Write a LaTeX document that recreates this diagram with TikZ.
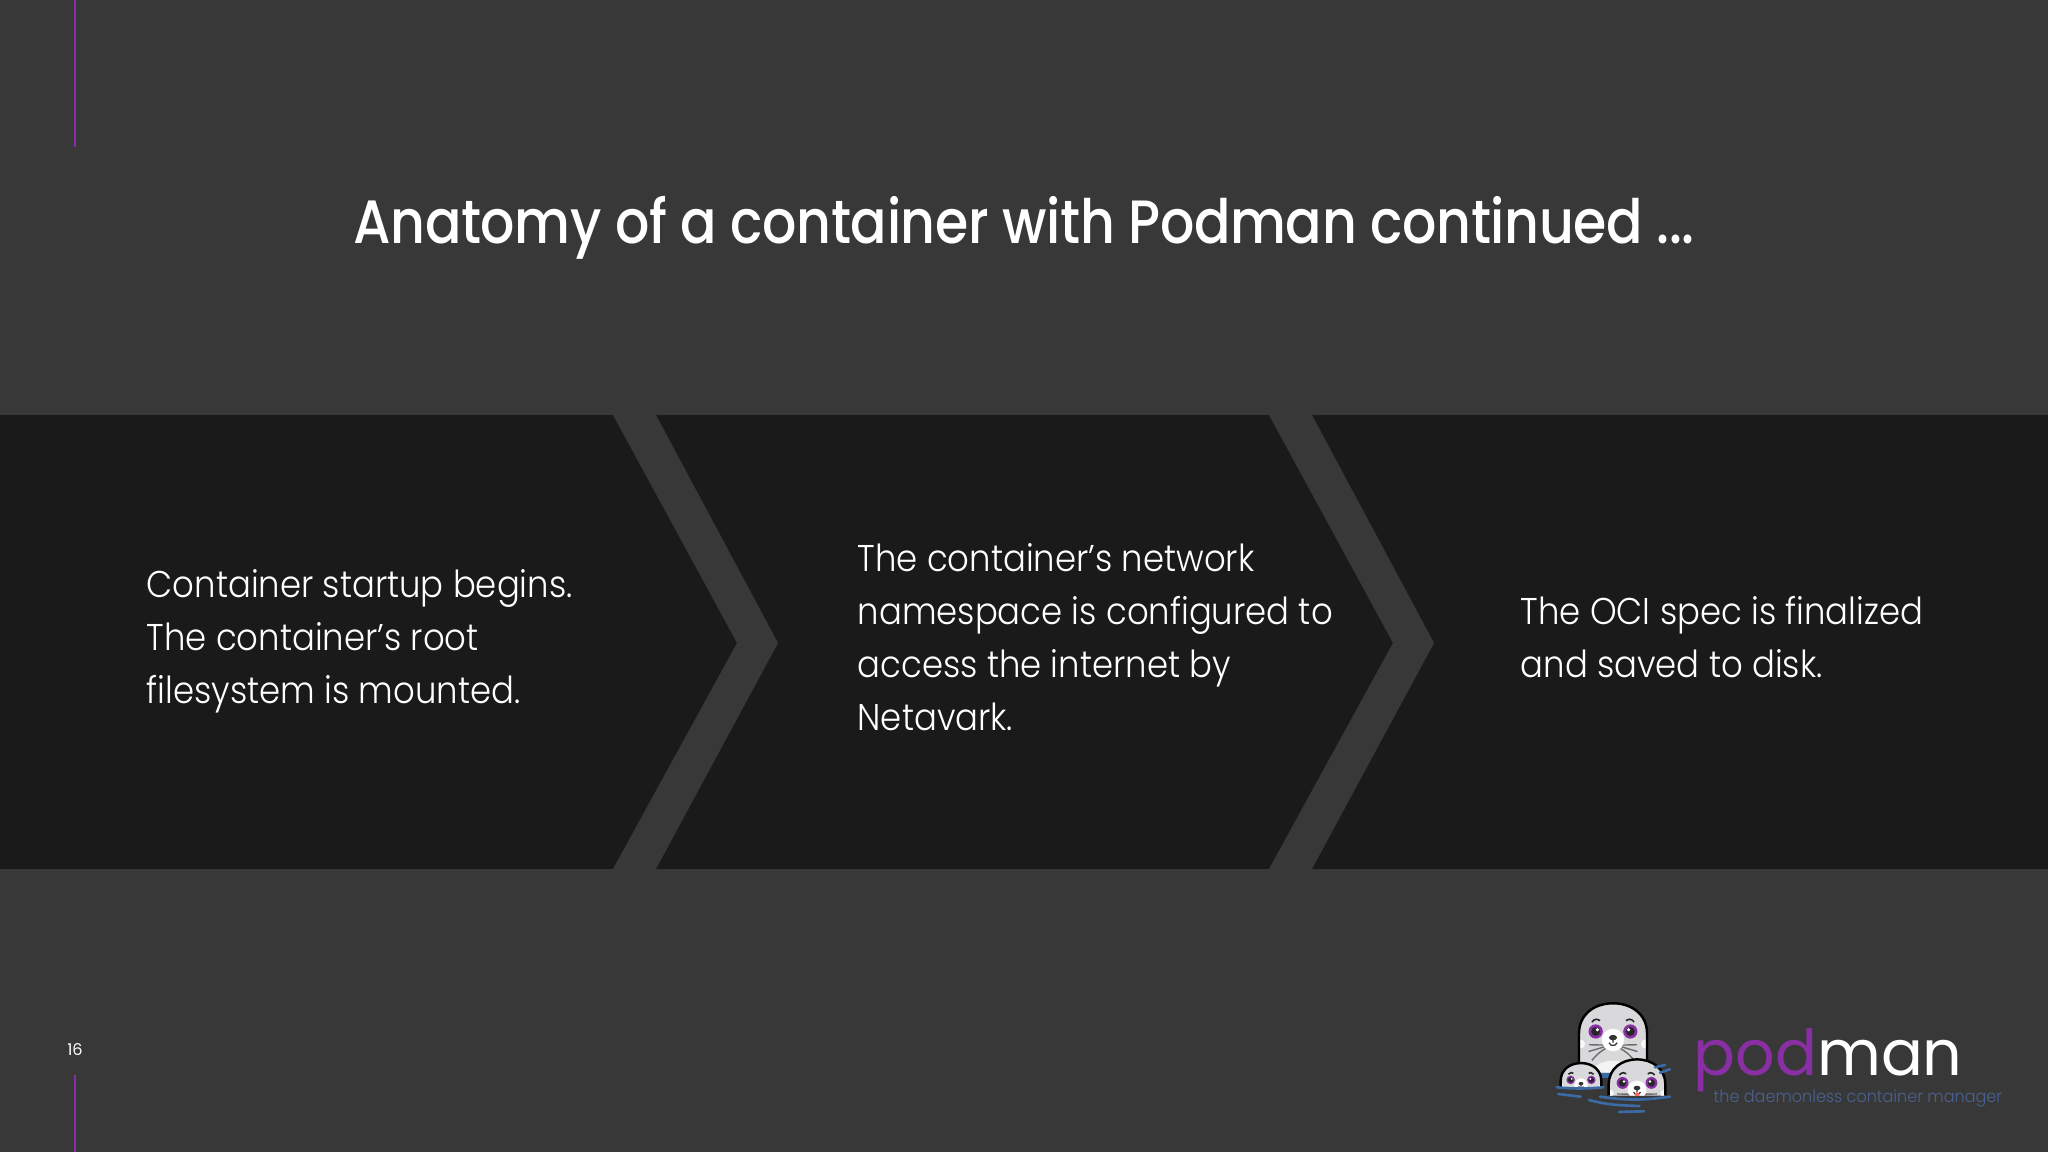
\documentclass[tikz,border=0pt]{standalone}
\usepackage{fontspec}
\setmainfont{Poppins}
\newfontfamily\titlefont[FakeStretch=0.88,LetterSpace=-0.6,UprightFont={* Medium}]{Poppins}
\newfontfamily\bodyfont[FakeStretch=0.91,UprightFont={* Light}]{Poppins}
\newfontfamily\logofont[FakeStretch=0.98]{Poppins}
\newfontfamily\tagfont[FakeStretch=0.95,UprightFont={* Light}]{Poppins}
\definecolor{slidebg}{HTML}{383838}
\definecolor{panel}{HTML}{1A1A1A}
\definecolor{podpurple}{HTML}{892FA3}
\definecolor{waterblue}{HTML}{3B6AA5}
\definecolor{tagblue}{HTML}{4A6292}
\definecolor{sealgray}{HTML}{D9D9DB}
\tikzset{
    body/.style={text=white,align=left,anchor=west,inner sep=0pt,font=\bodyfont\fontsize{10.6}{15.05}\selectfont},
    edgeline/.style={podpurple,line width=0.6pt},
    water/.style={waterblue,line width=0.75pt,line cap=round},
    pics/seal/.style={code={
        \begin{scope}
        \clip (-1,#1) -- (-1,0.2) .. controls (-1,0.75) and (-0.55,1.08) .. (0,1.08) .. controls (0.55,1.08) and (1,0.75) .. (1,0.2) -- (1,#1) -- cycle;
        \fill[sealgray] (-1.1,#1) rectangle (1.1,1.1);
        \fill[white!85!sealgray] (-0.95,-0.12) circle (0.13);
        \fill[white!85!sealgray] (0.95,-0.12) circle (0.13);
        \foreach \s in {-1,1} {
            \draw[gray!85!black,line width=0.4pt] (\s*0.25,-0.15) .. controls (\s*0.5,-0.15) .. (\s*0.7,-0.14);
            \draw[gray!85!black,line width=0.4pt] (\s*0.25,-0.2) .. controls (\s*0.5,-0.25) .. (\s*0.72,-0.34);
            \draw[gray!85!black,line width=0.4pt] (\s*0.22,-0.25) .. controls (\s*0.45,-0.4) .. (\s*0.62,-0.6);
            \fill[podpurple] (\s*0.51,0.25) circle (0.21);
            \fill[black!85] (\s*0.51,0.25) circle (0.13);
            \fill[white] (\s*0.46,0.3) circle (0.05);
            \draw[black!85,line width=0.45pt] (\s*0.62,0.53) arc ({90-\s*60}:{90+\s*40}:0.16);
        }
        \fill[white] (0,0) circle (0.33);
        \fill[black!80] (0,0.07) ellipse (0.12 and 0.08);
        \draw[black!80,line width=0.35pt] (0,0) -- (0,-0.08) (-0.12,-0.08) arc (200:340:0.13);
        \end{scope}
        \draw[black,line width=0.7pt] (-1,#1) -- (-1,0.2) .. controls (-1,0.75) and (-0.55,1.08) .. (0,1.08) .. controls (0.55,1.08) and (1,0.75) .. (1,0.2) -- (1,#1);
    }},
}
\begin{document}
\begin{tikzpicture}

    \fill[slidebg] (0,0) rectangle (20.48,11.52);
    \useasboundingbox (0,0) rectangle (20.48,11.52);

    %band with the two chevrons
    \fill[panel] (0,2.83) rectangle (20.48,7.37);
    \fill[slidebg] (6.13,7.37) -- (6.56,7.37) -- (7.78,5.09) -- (6.56,2.83) -- (6.13,2.83) -- (7.37,5.09) -- cycle;
    \fill[slidebg] (12.69,7.37) -- (13.12,7.37) -- (14.34,5.09) -- (13.12,2.83) -- (12.69,2.83) -- (13.93,5.09) -- cycle;

    \draw[edgeline] (0.75,11.52) -- (0.75,10.05);
    \draw[edgeline] (0.75,0) -- (0.75,0.77);

    \node[text=white,font=\titlefont\fontsize{17.4}{20}\selectfont] (title) at (10.24,9.24) {Anatomy of a container with Podman continued ...};

    \node[body] (startup) at (1.46,5.11) {Container startup begins.\\The container’s root\\filesystem is mounted.};
    \node[body] (network) at (8.57,5.15) {The container’s network\\namespace is configured to\\access the internet by\\Netavark.};
    \node[body] (spec) at (15.2,5.15) {The OCI spec is finalized\\and saved to disk.};

    \node[text=white,font=\fontsize{4.6}{5}\selectfont] (page) at (0.75,1.02) {16};

    %seals
    \fill[waterblue] (15.95,0.74) rectangle (16.2,0.8);
    \pic at (16.13,1.12) [scale=0.34] {seal=-0.97};
    \fill[white!70!sealgray] (15.9,0.8) .. controls (16.0,0.95) and (16.26,0.95) .. (16.36,0.8) -- cycle;
    \pic at (15.81,0.67) [scale=0.203] {seal=-0.12};
    \pic at (16.37,0.62) [scale=0.283] {seal=-0.2};
    \fill[red!60!white] (16.37,0.577) ellipse (0.025 and 0.02);

    \draw[water] (15.567,0.647) to[out=-5,in=185] (16.033,0.647);
    \draw[water] (15.583,0.58) -- (15.807,0.553);
    \draw[water] (15.89,0.52) to[out=-15,in=178] (16.393,0.46);
    \draw[water] (16.19,0.4) -- (16.44,0.407);
    \draw[water] (16.0,0.553) to[out=-8,in=188] (16.7,0.553);
    \draw[water] (16.55,0.847) -- (16.65,0.87);
    \draw[water] (16.6,0.793) -- (16.7,0.827);

    \node[anchor=base west,inner sep=0pt,font=\logofont\fontsize{18}{20}\selectfont] (logo) at (16.93,0.76) {\textcolor{podpurple}{pod}\textcolor{white}{man}};
    \node[anchor=base west,inner sep=0pt,text=tagblue,font=\tagfont\fontsize{4.8}{6}\selectfont] (tagline) at (17.13,0.49) {the daemonless container manager};

\end{tikzpicture}
\end{document}
